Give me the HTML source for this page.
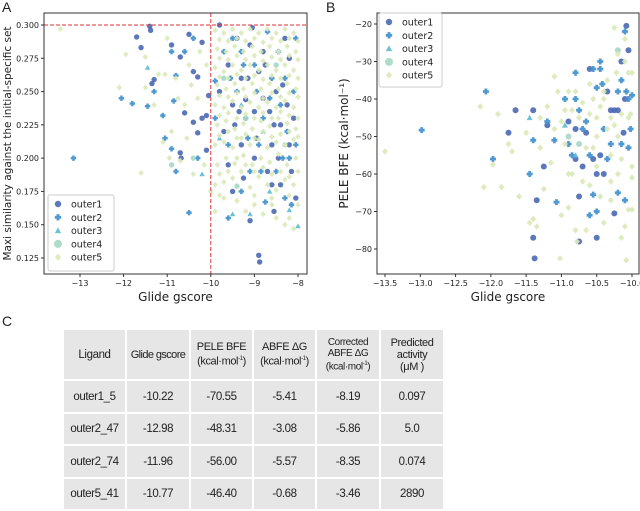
<!DOCTYPE html>
<html><head><meta charset="utf-8"><style>
body{margin:0;width:640px;height:509px;background:#fff;overflow:hidden;position:relative;font-family:"DejaVu Sans","Liberation Sans",sans-serif}
svg{position:absolute;left:0;top:0}
table{position:absolute;left:62px;top:328px;border-collapse:collapse;table-layout:fixed;font-family:"Liberation Sans",sans-serif;font-size:11.5px;color:#222;letter-spacing:-0.4px}
td{background:#e6e6e6;border:2px solid #fff;text-align:center;padding:0;line-height:12px;white-space:nowrap;overflow:hidden}
</style></head><body>
<svg id="chart" width="640" height="509"></svg>
<table>
<tr style="height:51px"><td style="width:61px">Ligand</td><td style="width:62px;font-size:11px;letter-spacing:-0.6px">Glide gscore</td><td style="width:61px;font-size:11px">PELE BFE<br>(kcal·mol<sup style="font-size:6px">-1</sup>)</td><td style="width:61px;font-size:11px">ABFE ΔG<br>(kcal·mol<sup style="font-size:6px">-1</sup>)</td><td style="width:62px;font-size:10px;line-height:11px">Corrected<br>ABFE ΔG<br>(kcal·mol<sup style="font-size:6px">-1</sup>)</td><td style="width:62px;font-size:11px">Predicted<br>activity<br>(μM )</td></tr>
<tr style="height:33px"><td>outer1_5</td><td>-10.22</td><td>-70.55</td><td>-5.41</td><td>-8.19</td><td>0.097</td></tr>
<tr style="height:32px"><td>outer2_47</td><td>-12.98</td><td>-48.31</td><td>-3.08</td><td>-5.86</td><td>5.0</td></tr>
<tr style="height:33px"><td>outer2_74</td><td>-11.96</td><td>-56.00</td><td>-5.57</td><td>-8.35</td><td>0.074</td></tr>
<tr style="height:32px"><td>outer5_41</td><td>-10.77</td><td>-46.40</td><td>-0.68</td><td>-3.46</td><td>2890</td></tr>
</table>
<script>
const seriesNames=["outer1","outer2","outer3","outer4","outer5"];
const seriesColors=["#4a68b3","#3d8fcc","#5bbad0","#a6d8c4","#dae9b8"];
const aXTicks=[-13,-12,-11,-10,-9,-8];
const aYTicks=[0.125,0.150,0.175,0.200,0.225,0.250,0.275,0.300];
const bXTicks=[-13.5,-13.0,-12.5,-12.0,-11.5,-11.0,-10.5,-10.0];
const bYTicks=[-20,-30,-40,-50,-60,-70,-80];
const a1=[[-11.7,.291],[-11.6,.283],[-11.4,.299],[-11.38,.296],[-11.3,.259],[-11.35,.256],[-10.9,.285],[-10.7,.276],[-10.5,.293],[-10.4,.265],[-10.3,.261],[-10.2,.287],[-10.1,.232],[-10.05,.247],[-10.2,.23],[-10.6,.234],[-10.7,.204],[-10.68,.2],[-10.4,.227],[-10.1,.206],[-10.3,.219],[-9.8,.3],[-9.5,.175],[-9.1,.153],[-8.9,.127],[-8.88,.122],[-8.55,.16],[-8.6,.18],[-8.4,.18],[-9,.235],[-9.2,.244],[-9.3,.26],[-9.6,.27],[-9.4,.29],[-8.8,.28],[-8.5,.25],[-8.2,.21],[-8.3,.29],[-9.7,.22],[-9,.2],[-8.7,.19],[-8.1,.23],[-9.5,.24],[-8.9,.265],[-8.4,.225],[-9.8,.25],[-9.3,.21],[-8.2,.275],[-8.6,.21],[-9.1,.285],[-8.05,.17],[-9.6,.195],[-8.8,.245],[-9.05,.298],[-8.35,.255],[-8.65,.235],[-9.45,.225],[-8.15,.19],[-9.25,.185],[-8.75,.27],[-8.55,.225],[-8.95,.215],[-9.35,.235],[-8.25,.24],[-8.45,.2],[-9.15,.26]];
const a2=[[-13.15,.2],[-12.05,.245],[-11.8,.241],[-11.45,.239],[-11.3,.25],[-11.1,.232],[-11.05,.215],[-10.9,.207],[-10.8,.19],[-10.85,.243],[-10.8,.262],[-10.5,.159],[-10.3,.2],[-9.9,.258],[-9.6,.155],[-9.3,.175],[-8.75,.167],[-8.3,.17],[-8.15,.165],[-8.05,.29],[-9,.27],[-9.5,.29],[-8.6,.26],[-9.2,.23],[-8.4,.24],[-9.7,.28],[-8.9,.21],[-8.2,.2],[-9.4,.25],[-8.7,.295],[-9.9,.23],[-8.5,.19],[-9.1,.19],[-8.3,.26],[-9.6,.21],[-8.1,.25],[-10.6,.28],[-10.4,.29],[-10.9,.28],[-8.8,.23],[-9.3,.28],[-8.45,.28],[-8.95,.25],[-9.55,.26],[-8.25,.22],[-9.15,.215],[-8.05,.21],[-8.65,.245],[-9.25,.27],[-8.35,.2],[-8.85,.19]];
const a3=[[-11.45,.268],[-10.2,.188],[-9.5,.158],[-9.1,.158],[-8.65,.175],[-8,.149],[-8.2,.161],[-9.8,.215],[-8.8,.22],[-9.3,.24]];
const a4=[[-10.9,.195],[-10.4,.2],[-9.4,.179],[-9.2,.23],[-8.5,.27],[-8.3,.21],[-9.7,.26]];
const a5=[[-13.45,.297],[-11.95,.278],[-12.1,.253],[-11.5,.253],[-11.5,.276],[-11.2,.263],[-11.05,.263],[-11.6,.189],[-11.1,.212],[-10.9,.22],[-10.7,.198],[-10.4,.188],[-10.6,.24],[-10.8,.26],[-10.5,.27],[-10.3,.245],[-10.1,.27],[-10,.175],[-9.9,.16],[-9.7,.17],[-9,.165],[-8.5,.155],[-8.3,.15],[-8.1,.147],[-8.2,.155],[-8.6,.165],[-11.0,.29],[-10.75,.245],[-10.55,.215],[-10.25,.28],[-10.15,.195],[-10.45,.255],[-11.3,.24],[-10.95,.2],
[-9.9,.18],[-9.7,.182],[-9.5,.185],[-9.3,.19],[-9.1,.178],[-8.9,.186],[-8.7,.18],[-8.5,.176],[-8.3,.184],[-8.1,.18],
[-9.85,.195],[-9.65,.2],[-9.45,.196],[-9.25,.202],[-9.05,.195],[-8.85,.2],[-8.65,.197],[-8.45,.203],[-8.25,.195],[-8.05,.2],
[-9.9,.21],[-9.7,.212],[-9.5,.208],[-9.3,.215],[-9.1,.21],[-8.9,.214],[-8.7,.208],[-8.5,.212],[-8.3,.21],[-8.1,.214],
[-9.85,.225],[-9.65,.228],[-9.45,.222],[-9.25,.226],[-9.05,.222],[-8.85,.228],[-8.65,.224],[-8.45,.23],[-8.25,.226],[-8.05,.222],
[-9.9,.24],[-9.7,.238],[-9.5,.243],[-9.3,.238],[-9.1,.242],[-8.9,.238],[-8.7,.242],[-8.5,.238],[-8.3,.243],[-8.1,.238],
[-9.85,.255],[-9.65,.252],[-9.45,.256],[-9.25,.252],[-9.05,.256],[-8.85,.252],[-8.65,.256],[-8.45,.252],[-8.25,.256],[-8.05,.252],
[-9.9,.268],[-9.7,.265],[-9.5,.27],[-9.3,.266],[-9.1,.27],[-8.9,.266],[-8.7,.27],[-8.5,.266],[-8.3,.27],[-8.1,.266],
[-9.85,.282],[-9.65,.28],[-9.45,.284],[-9.25,.28],[-9.05,.284],[-8.85,.28],[-8.65,.284],[-8.45,.28],[-8.25,.284],[-8.05,.28],
[-9.9,.296],[-9.7,.294],[-9.5,.297],[-9.3,.294],[-9.1,.297],[-8.9,.294],[-8.7,.297],[-8.5,.294],[-8.3,.297],[-8.1,.294],
[-9.8,.188],[-9.6,.19],[-9.4,.2],[-9.2,.195],[-9.0,.19],[-8.8,.193],[-8.6,.188],[-8.4,.19],[-8.2,.186],[-8.0,.19],
[-9.8,.217],[-9.6,.22],[-9.4,.215],[-9.2,.218],[-9.0,.215],[-8.8,.22],[-8.6,.216],[-8.4,.218],[-8.2,.22],[-8.0,.216],
[-9.8,.232],[-9.6,.234],[-9.4,.23],[-9.2,.233],[-9.0,.23],[-8.8,.234],[-8.6,.23],[-8.4,.235],[-8.2,.232],[-8.0,.23],
[-9.8,.247],[-9.6,.246],[-9.4,.249],[-9.2,.246],[-9.0,.249],[-8.8,.245],[-8.6,.249],[-8.4,.246],[-8.2,.249],[-8.0,.246],
[-9.8,.261],[-9.6,.26],[-9.4,.263],[-9.2,.26],[-9.0,.262],[-8.8,.259],[-8.6,.262],[-8.4,.26],[-8.2,.262],[-8.0,.26],
[-9.8,.275],[-9.6,.274],[-9.4,.277],[-9.2,.274],[-9.0,.277],[-8.8,.273],[-8.6,.276],[-8.4,.274],[-8.2,.277],[-8.0,.274],
[-9.8,.289],[-9.6,.288],[-9.4,.29],[-9.2,.288],[-9.0,.29],[-8.8,.287],[-8.6,.29],[-8.4,.288],[-8.2,.29],[-8.0,.288],
[-9.8,.172],[-9.4,.168],[-9.0,.172],[-8.6,.17],[-8.2,.172],[-8.0,.165],[-9.2,.16],[-8.8,.158]];
const b1=[[-11.65,-43],[-11.75,-49],[-11.4,-43],[-11.35,-67],[-11.4,-77],[-11.38,-82.5],[-11.25,-58],[-11.2,-47],[-10.75,-66],[-10.75,-78],[-10.5,-77],[-10.6,-32],[-10.3,-43],[-10.25,-43],[-10.2,-43],[-10.15,-30],[-10.08,-20.5],[-10.05,-27],[-10.1,-40],[-10.12,-49],[-10.4,-60],[-10.5,-60],[-10.45,-55],[-10.55,-56],[-10.8,-56],[-10.65,-49],[-10.9,-46],[-10.25,-70.5],[-10.35,-38],[-10.8,-48],[-10.7,-58]];
const b2=[[-12.98,-48.3],[-12.07,-38],[-11.97,-56],[-11.45,-60],[-11.4,-51],[-11.2,-46],[-11.1,-51],[-11.07,-67.5],[-10.95,-40],[-10.9,-52],[-10.8,-33],[-10.75,-43],[-10.8,-40],[-10.55,-32],[-10.45,-30],[-10.45,-32],[-10.5,-37],[-10.42,-36],[-10.2,-38],[-10.15,-35],[-10.1,-22],[-10.08,-38],[-10.05,-40],[-10,-39],[-10.02,-48],[-10.05,-53],[-10.2,-65],[-10.1,-67],[-10.55,-65.5],[-10.6,-71],[-10.5,-70],[-10.3,-52],[-10.6,-55],[-10.85,-55],[-10.7,-48],[-10.4,-48],[-10.15,-52],[-10.35,-56],[-10.65,-46]];
const b3=[[-11.45,-45],[-10.95,-47],[-10.8,-55]];
const b4=[[-10.9,-50],[-10.2,-27],[-10.75,-52]];
const b5=[[-13.5,-54],[-12.15,-42],[-11.97,-57.5],[-12.1,-63.5],[-11.9,-44],[-11.85,-63.5],[-11.75,-52],[-11.7,-54],[-11.6,-66],[-11.5,-49],[-11.45,-73],[-11.4,-72],[-11.35,-74],[-11.3,-53],[-11.25,-64],[-11.15,-57],[-11.1,-34],[-11.05,-38],[-11,-71],[-11.02,-82.5],[-10.95,-43],[-10.9,-60],[-10.9,-69],[-10.8,-75],[-10.78,-78],[-10.65,-75],[-10.6,-63],[-10.55,-40],[-10.5,-45],[-10.45,-66],[-10.4,-73],[-10.35,-35],[-10.3,-62],[-10.25,-21],[-10.2,-60],[-10.15,-77],[-10.1,-74],[-10.05,-69.5],[-10,-69.5],[-10.08,-83],[-10,-58],[-10,-61],[-10.05,-33],[-10,-33],[-10.1,-24],[-10.2,-28],[-10.3,-45],[-10.4,-40],[-10.5,-50],[-10.6,-44],[-10.7,-41],[-10.8,-38],[-10.9,-38],[-11,-46],[-11.1,-48],[-10.35,-48],[-10.25,-47],[-10.15,-44],[-10.05,-45],[-10.45,-42],[-10.55,-53],[-10.65,-53],[-10.75,-45],[-10.85,-43],[-10.95,-52],[-10.2,-50],[-10.3,-55],[-10.4,-38],[-10.1,-30],[-10.22,-33],[-10.6,-36],[-10.7,-62],[-10.3,-67],[-10.15,-56],[-10.5,-58],[-11.2,-42],[-11.3,-45],[-10.85,-60],[-10.02,-44]];
const aSeries=[a1,a2,a3,a4,a5], bSeries=[b1,b2,b3,b4,b5];
const NS="http://www.w3.org/2000/svg", svg=document.getElementById('chart');
function mk(tag,at,parent){const e=document.createElementNS(NS,tag);for(const k in at)e.setAttribute(k,at[k]);(parent||svg).appendChild(e);return e;}
function txt(s,at,parent){const e=mk('text',at,parent);e.textContent=s;return e;}
function scale(d0,d1,r0,r1){return v=>r0+(v-d0)/(d1-d0)*(r1-r0);}
function marker(g,k,x,y,r,c){
  let e;
  if(k===0||k===3){e=mk('circle',{cx:x,cy:y,r:r,fill:c},g);}
  else if(k===1){const a=r*0.45;e=mk('path',{d:`M${x-a} ${y-r}h${2*a}v${r-a}h${r-a}v${2*a}h${-(r-a)}v${r-a}h${-2*a}v${-(r-a)}h${-(r-a)}v${-2*a}h${r-a}z`,fill:c},g);}
  else if(k===2){e=mk('path',{d:`M${x} ${y-r}L${x+r} ${y+r*0.8}L${x-r} ${y+r*0.8}z`,fill:c},g);}
  else {e=mk('path',{d:`M${x} ${y-r*1.1}L${x+r} ${y}L${x} ${y+r*1.1}L${x-r} ${y}z`,fill:c},g);}
  
  
  e.setAttribute('opacity','0.9');
}
function panel(o){
  const g=mk('g',{});
  
  
  const X=scale(o.xd[0],o.xd[1],o.xr[0],o.xr[1]), Y=scale(o.yd[0],o.yd[1],o.yr[0],o.yr[1]);
  o.series.forEach((s,k)=>s.forEach(p=>marker(g,k,X(p[0]),Y(p[1]),o.r,seriesColors[k])));
  if(o.ref){const l1=mk('line',{x1:X(-10),x2:X(-10),y1:o.box[1],y2:o.box[3],stroke:'#d33',"stroke-width":1,"stroke-dasharray":"4,2"},g);
    
    const l2=mk('line',{x1:o.box[0],x2:o.box[2],y1:Y(0.3),y2:Y(0.3),stroke:'#d33',"stroke-width":1,"stroke-dasharray":"4,2"},g);
    }
  const fr=mk('rect',{x:o.box[0],y:o.box[1],width:o.box[2]-o.box[0],height:o.box[3]-o.box[1],fill:'none',stroke:'#333',"stroke-width":1},g);
  
  o.xt.forEach((t,i)=>{const x=X(t);mk('line',{x1:x,x2:x,y1:o.box[3],y2:o.box[3]+3,stroke:'#333'},g);
    const e=txt(o.xl[i],{x:x,y:o.box[3]+12,"font-size":8,"text-anchor":"middle",fill:'#222'},g);});
  o.yt.forEach((t,i)=>{const y=Y(t);mk('line',{x1:o.box[0]-3,x2:o.box[0],y1:y,y2:y,stroke:'#333'},g);
    const e=txt(o.yl[i],{x:o.box[0]-5,y:y+3,"font-size":8,"text-anchor":"end",fill:'#222'},g);});
  const xl=txt('Glide gscore',{x:(o.box[0]+o.box[2])/2,y:o.box[3]+27,"font-size":12,"text-anchor":"middle",fill:'#222'},g);
  
  const yl=txt(o.ytitle,{x:0,y:0,"font-size":o.yfs,"text-anchor":"middle",fill:'#222',transform:`translate(${o.ytx},${(o.box[1]+o.box[3])/2}) rotate(-90)`},g);
  
  const L=o.leg, lg=mk('g',{},g);
  
  mk('rect',{x:L[0],y:L[1],width:L[2],height:L[3],rx:2,fill:'#fff',stroke:'#ccc',"fill-opacity":0.85},lg);
  seriesNames.forEach((n,k)=>{const y=L[1]+9+k*13.3;marker(lg,k,L[0]+10,y,k===3?4:3.2,seriesColors[k]);
    const e=txt(n,{x:L[0]+23,y:y+3.5,"font-size":9.5,fill:'#222'},lg);});
}
panel({name:'panel-a-scatter',box:[44,13,307,274],xd:[-13,-8],xr:[80,298],yd:[0.125,0.3],yr:[258,25],series:aSeries,r:2.7,ref:true,
  xt:aXTicks,xl:aXTicks.map(t=>'\u2212'+Math.abs(t)),yt:aYTicks,yl:aYTicks.map(t=>t.toFixed(3)),
  ytitle:'Maxi similarity against the initial-specific set',yfs:10.5,ytx:11,leg:[48,195,66,76]});
panel({name:'panel-b-scatter',box:[377,13,639,274],xd:[-13.5,-10],xr:[385,632],yd:[-20,-80],yr:[24,249],series:bSeries,r:3,ref:false,
  xt:bXTicks,xl:bXTicks.map(t=>'\u2212'+Math.abs(t).toFixed(1)),yt:bYTicks,yl:bYTicks.map(t=>'\u2212'+Math.abs(t)),
  ytitle:'PELE BFE (kcal·mol\u207B\u00B9)',yfs:12,ytx:348,leg:[379,13,63,74]});
[['A',2,12],['B',326,12],['C',2,326]].forEach(p=>{const e=txt(p[0],{x:p[1],y:p[2],"font-size":14,fill:'#222',"font-family":"Liberation Sans, sans-serif"});
  });
</script>
</body></html>
